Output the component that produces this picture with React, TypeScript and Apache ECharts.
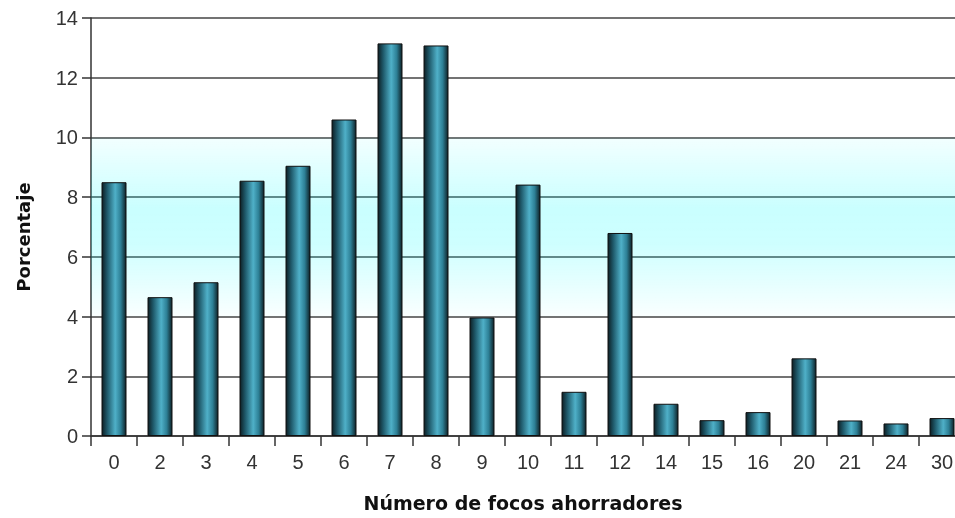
import React, { useEffect, useRef } from "react";
import * as echarts from "echarts";

const categories = ["0", "2", "3", "4", "5", "6", "7", "8", "9", "10", "11", "12", "14", "15", "16", "20", "21", "24", "30"];
const values = [8.5, 4.65, 5.15, 8.55, 9.05, 10.6, 13.15, 13.08, 3.97, 8.42, 1.48, 6.8, 1.08, 0.53, 0.8, 2.6, 0.52, 0.42, 0.6];
const yTicks = { min: 0, max: 14, interval: 2 };
const xName = "Número de focos ahorradores";
const yName = "Porcentaje";

export default function App() {
  const ref = useRef<HTMLDivElement>(null);
  useEffect(() => {
    if (!ref.current) return;
    const chart = echarts.init(ref.current, null, { renderer: "svg" });
    const barGradient = new echarts.graphic.LinearGradient(0, 0, 1, 0, [
      { offset: 0, color: "#0d1f25" },
      { offset: 0.22, color: "#1f5a6b" },
      { offset: 0.55, color: "#4fb0c8" },
      { offset: 0.78, color: "#2d7f95" },
      { offset: 1, color: "#0e2228" },
    ]);
    const bandGradient = new echarts.graphic.LinearGradient(0, 0, 0, 1, [
      { offset: 0, color: "rgba(0,255,255,0.05)" },
      { offset: 0.4, color: "rgba(0,255,255,0.21)" },
      { offset: 0.6, color: "rgba(0,255,255,0.19)" },
      { offset: 1, color: "rgba(0,255,255,0.02)" },
    ]);
    chart.setOption({
      animation: false,
      grid: { left: 91, top: 18, width: 874, bottom: 82, containLabel: false },
      xAxis: {
        type: "category",
        data: categories,
        name: xName,
        nameLocation: "middle",
        nameGap: 57,
        nameTextStyle: { fontFamily: "DejaVu Sans", fontWeight: "bold", fontSize: 19, color: "#111", padding: [0, 10, 0, 0] },
        axisLine: { lineStyle: { color: "#333", width: 1.5 } },
        axisTick: { show: true, length: 10, lineStyle: { color: "#333", width: 1.5 } },
        axisLabel: { margin: 16, fontFamily: "Liberation Sans", fontSize: 20, color: "#333", interval: 0 },
      },
      yAxis: {
        type: "value",
        min: yTicks.min,
        max: yTicks.max,
        interval: yTicks.interval,
        axisLine: { show: true, lineStyle: { color: "#333", width: 1.5 } },
        axisTick: { show: true, length: 9, lineStyle: { color: "#333", width: 1.5 } },
        axisLabel: { margin: 13, fontFamily: "Liberation Sans", fontSize: 20, color: "#333" },
        splitLine: { show: true, lineStyle: { color: "#444", width: 1.5 } },
      },
      graphic: [
        {
          type: "text",
          x: 23,
          y: 237,
          rotation: Math.PI / 2,
          style: {
            text: yName,
            font: "bold 18px 'DejaVu Sans'",
            fill: "#111",
            textAlign: "center",
            textVerticalAlign: "middle",
          },
        },
      ],
      series: [
        {
          type: "bar",
          data: values,
          barWidth: 25,
          itemStyle: { color: barGradient, borderColor: "#111", borderWidth: 1 },
          markArea: {
            silent: true,
            itemStyle: { color: bandGradient },
            data: [[{ yAxis: 4 }, { yAxis: 10 }]],
          },
        },
      ],
    });
    return () => chart.dispose();
  }, []);
  return <div ref={ref} style={{ position: "fixed", left: 0, top: 0, width: 967, height: 518 }} />;
}
